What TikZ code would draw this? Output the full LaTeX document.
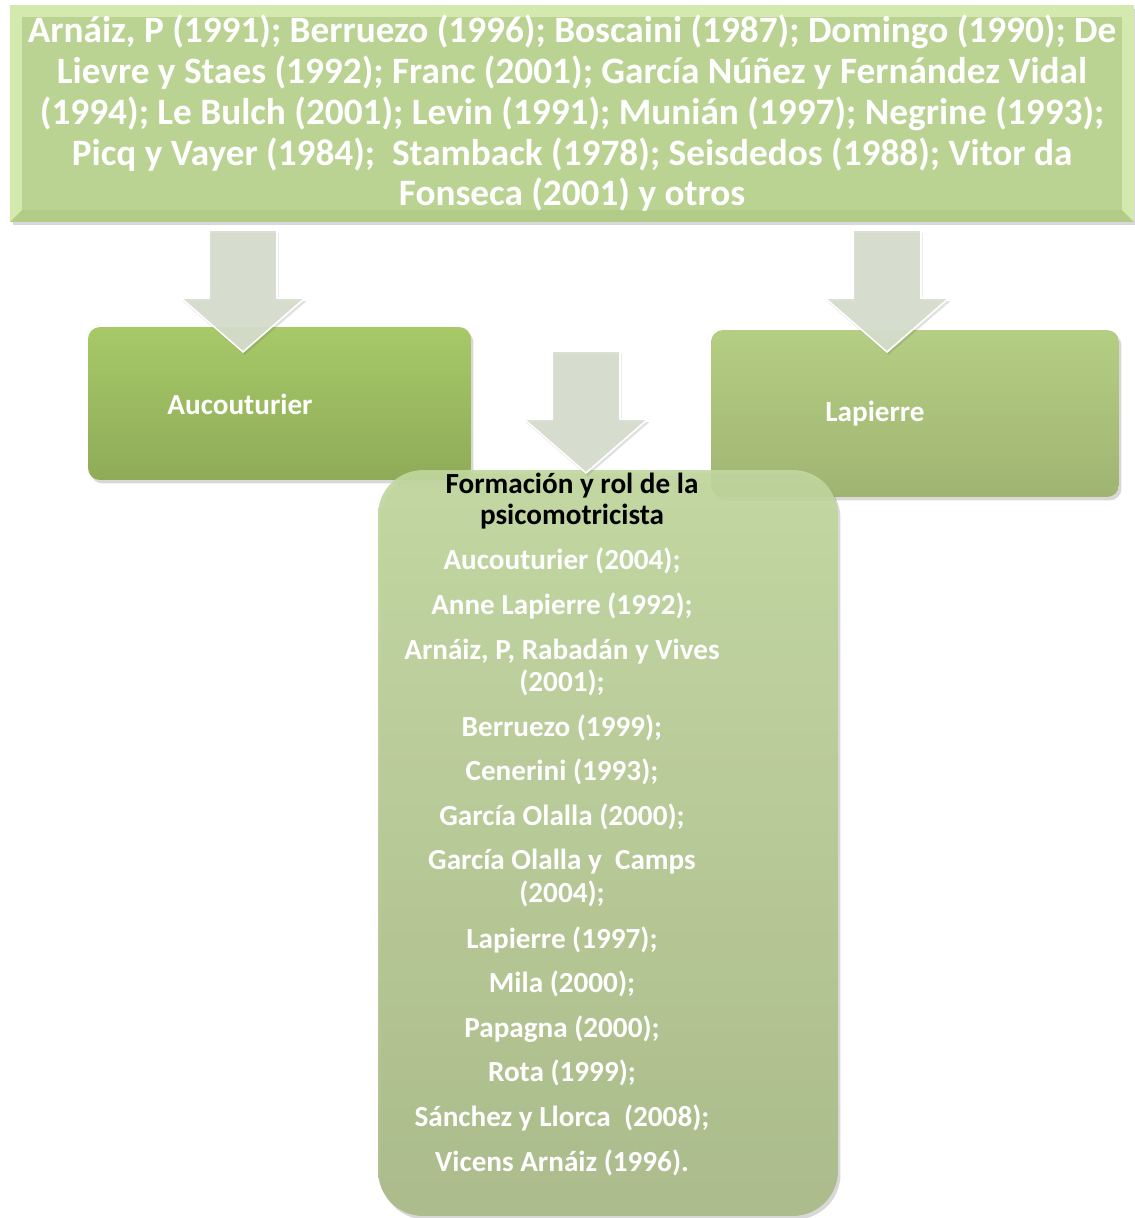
\documentclass[tikz,border=0pt]{standalone}
\usepackage{fontspec}
\setmainfont{Carlito}
\usetikzlibrary{calc,shadows}

\definecolor{bevellight}{HTML}{D4E9AE}
\definecolor{bevelmid}{HTML}{BAD393}
\definecolor{beveldark}{HTML}{B2CB88}
\definecolor{aucTop}{HTML}{A7C968}
\definecolor{aucBot}{HTML}{8FAB58}
\definecolor{lapTop}{HTML}{B4CE83}
\definecolor{lapBot}{HTML}{A0B472}
\definecolor{formTop}{HTML}{C0D79E}
\definecolor{formBot}{HTML}{A8B985}
\definecolor{arrowgrey}{HTML}{D6DECD}

% estilos
\tikzset{
  softshadow/.style={drop shadow={shadow xshift=0.05cm, shadow yshift=-0.07cm, opacity=0.22, fill=black!70}},
  topbox/.style={minimum width=22.48cm, minimum height=4.34cm, inner sep=0pt,
    fill=bevellight, softshadow, text=white, align=center,
    font=\bfseries\fontsize{21.2}{23.2}\selectfont,
    path picture={
      \fill[beveldark] (path picture bounding box.south west) -- (path picture bounding box.south east)
        -- ($(path picture bounding box.south east)+(-0.24cm,0.24cm)$) -- ($(path picture bounding box.south west)+(0.24cm,0.24cm)$) -- cycle;
      \fill[bevelmid] ($(path picture bounding box.north west)+(0.24cm,-0.24cm)$) rectangle ($(path picture bounding box.south east)+(-0.24cm,0.24cm)$);
    }},
  greenbox/.style={rounded corners=0.24cm, softshadow, inner sep=0pt},
  whitetext/.style={text=white, align=center, font=\bfseries\fontsize{16.6}{18.7}\selectfont},
  titletext/.style={text=black, align=center, font=\bfseries\fontsize{16.6}{18.1}\selectfont},
  blockarrow/.style={fill=arrowgrey, draw=white, line width=0.9pt, line join=miter, fill opacity=0.92,
    drop shadow={shadow xshift=0.03cm, shadow yshift=-0.06cm, opacity=0.2, fill=black!60}},
}

% flecha gruesa hacia abajo, #1 = punta
\newcommand{\bigdownarrow}[1]{%
  \draw[blockarrow] ($(#1)+(-34,-122)$) -- ($(#1)+(34,-122)$) -- ($(#1)+(34,-54)$) -- ($(#1)+(62,-54)$)
    -- (#1) -- ($(#1)+(-62,-54)$) -- ($(#1)+(-34,-54)$) -- cycle;}

\begin{document}
\begin{tikzpicture}[x=0.02cm, y=-0.02cm]
    \useasboundingbox (0,0) rectangle (1134,1218);

    % Caja de referencias
    \node[topbox] (refs) at (572,113.5) {Arnáiz, P (1991); Berruezo (1996); Boscaini (1987); Domingo (1990); De\\
      Lievre y Staes (1992); Franc (2001); García Núñez y Fernández Vidal\\
      (1994); Le Bulch (2001); Levin (1991); Munián (1997); Negrine (1993);\\
      Picq y Vayer (1984);~ Stamback (1978); Seisdedos (1988); Vitor da\\
      Fonseca (2001) y otros};

    % Cajas de autores
    \node[greenbox, top color=aucTop, bottom color=aucBot, minimum width=7.66cm, minimum height=3.06cm] (auc) at (279.5,403.5) {};
    \node[whitetext] (auctext) at (240,404) {Aucouturier};

    \node[greenbox, top color=lapTop, bottom color=lapBot, minimum width=8.16cm, minimum height=3.34cm] (lap) at (915,413.5) {};
    \node[whitetext] (laptext) at (875,414) {Lapierre};

    % Flechas desde la caja de referencias
    \coordinate (tipL) at (243,352);
    \coordinate (tipR) at (887,352);
    \bigdownarrow{tipL}
    \bigdownarrow{tipR}

    % Caja central
    \node[greenbox, rounded corners=0.9cm, top color=formTop, bottom color=formBot, fill opacity=0.92,
      minimum width=9.2cm, minimum height=14.92cm] (form) at (608,843) {};

    \coordinate (tipM) at (586,473);
    \bigdownarrow{tipM}

    \node[titletext] (formtitle) at (572,501) {Formación y rol de la\\psicomotricista};

    % Lista de autores
    \foreach \yy/\entry [count=\i] in {561/{Aucouturier (2004);}, 606/{Anne Lapierre (1992);},
        667.5/{Arnáiz, P, Rabadán y Vives\\(2001);}, 728/{Berruezo (1999);}, 772/{Cenerini (1993);},
        817/{García Olalla (2000);}, 878/{García Olalla y~ Camps\\(2004);}, 940/{Lapierre (1997);},
        984/{Mila (2000);}, 1029/{Papagna (2000);}, 1073/{Rota (1999);},
        1118/{Sánchez y Llorca~ (2008);}, 1163/{Vicens Arnáiz (1996).}}
      \node[whitetext] (item\i) at (562,\yy) {\entry};
\end{tikzpicture}
\end{document}
